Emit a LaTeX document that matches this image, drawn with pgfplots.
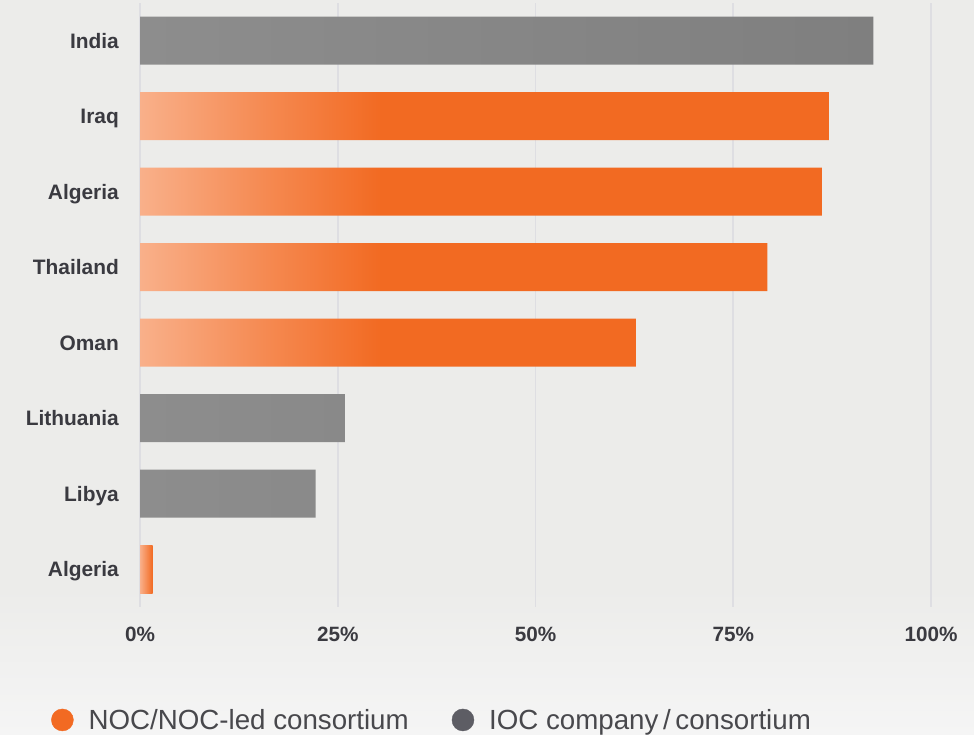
\documentclass[border=0pt]{standalone}
\usepackage{pgfplots}
\pgfplotsset{compat=1.18}
\usepackage{fontspec}
\setmainfont{Liberation Sans}
\definecolor{bgtop}{HTML}{ECECEA}
\definecolor{bgbot}{HTML}{F5F5F5}
\definecolor{orlight}{HTML}{F9B08A}
\definecolor{ormid}{HTML}{F58A52}
\definecolor{ormain}{HTML}{F26A22}
\definecolor{grlight}{HTML}{8D8D8D}
\definecolor{grmain}{HTML}{7F7F7F}
\definecolor{gridc}{HTML}{DEDEE2}
\definecolor{labc}{HTML}{3A3A40}
\definecolor{legc}{HTML}{48484C}
\definecolor{legor}{HTML}{F26A22}
\definecolor{leggr}{HTML}{5D5D64}
\pgfdeclarehorizontalshading{orangebar}{100bp}{color(0bp)=(orlight); color(25bp)=(orlight); color(34bp)=(ormid); color(42.5bp)=(ormain); color(100bp)=(ormain)}
\pgfdeclarehorizontalshading{greybar}{100bp}{color(0bp)=(grlight); color(25bp)=(grlight); color(75bp)=(grmain); color(100bp)=(grmain)}
\pgfdeclareverticalshading{bgshade}{100bp}{color(0bp)=(bgbot); color(25bp)=(bgbot); color(35bp)=(bgtop); color(100bp)=(bgtop)}
\begin{document}
\begin{tikzpicture}
\path[use as bounding box] (0,0) rectangle (974bp,735bp);
\shade[shading=bgshade] (0,0) rectangle (974bp,735bp);
\begin{axis}[
  at={(140bp,128bp)}, anchor=south west,
  scale only axis, width=791bp, height=604bp,
  xmin=0, xmax=100, ymin=0.5, ymax=8.5,
  xbar, bar width=48bp, bar shift=0pt,
  axis line style={draw=none},
  major tick length=0pt,
  xmajorgrids, grid style={color=gridc, line width=1.6bp},
  xtick={0,25,50,75,100},
  xticklabels={0\%,25\%,50\%,75\%,100\%},
  ytick={1,2,3,4,5,6,7,8},
  yticklabels={Algeria,Libya,Lithuania,Oman,Thailand,Algeria,Iraq,India},
  xticklabel style={font=\fontsize{20.7bp}{24bp}\selectfont\bfseries, text=labc, anchor=north, inner sep=0pt, yshift=-20bp},
  yticklabel style={font=\fontsize{20.9bp}{24bp}\selectfont\bfseries, text=labc, anchor=base east, inner sep=0pt, xshift=-21bp, yshift=-7.6bp},
  legend columns=2,
  legend cell align=left,
  legend image code/.code={\fill[#1] (11bp,0bp) circle (11bp);},
  legend style={at={(-0.1125,-0.187)}, anchor=west, draw=none, fill=none, inner sep=0pt,
    font=\fontsize{27.7bp}{32bp}\selectfont, text=legc,
    nodes={inner sep=0pt},
    /tikz/every odd column/.append style={column sep=15bp},
    /tikz/every even column/.append style={column sep=43bp}},
]
\addplot[draw=none, shading=orangebar, forget plot] coordinates {(87.1,7) (86.2,6) (79.3,5) (62.7,4)};
\addplot[draw=none, left color=orlight, right color=ormain, forget plot] coordinates {(1.6,1)};
\addplot[draw=none, shading=greybar, forget plot] coordinates {(92.7,8) (25.9,3) (22.2,2)};
\addlegendimage{legend image code/.code={\fill[legor] (11bp,0bp) circle (11bp);}}
\addlegendentry{NOC/NOC-led consortium}
\addlegendimage{legend image code/.code={\fill[leggr] (11bp,0bp) circle (11bp);}}
\addlegendentry{IOC company\,/\,consortium}
\end{axis}
\end{tikzpicture}
\end{document}
